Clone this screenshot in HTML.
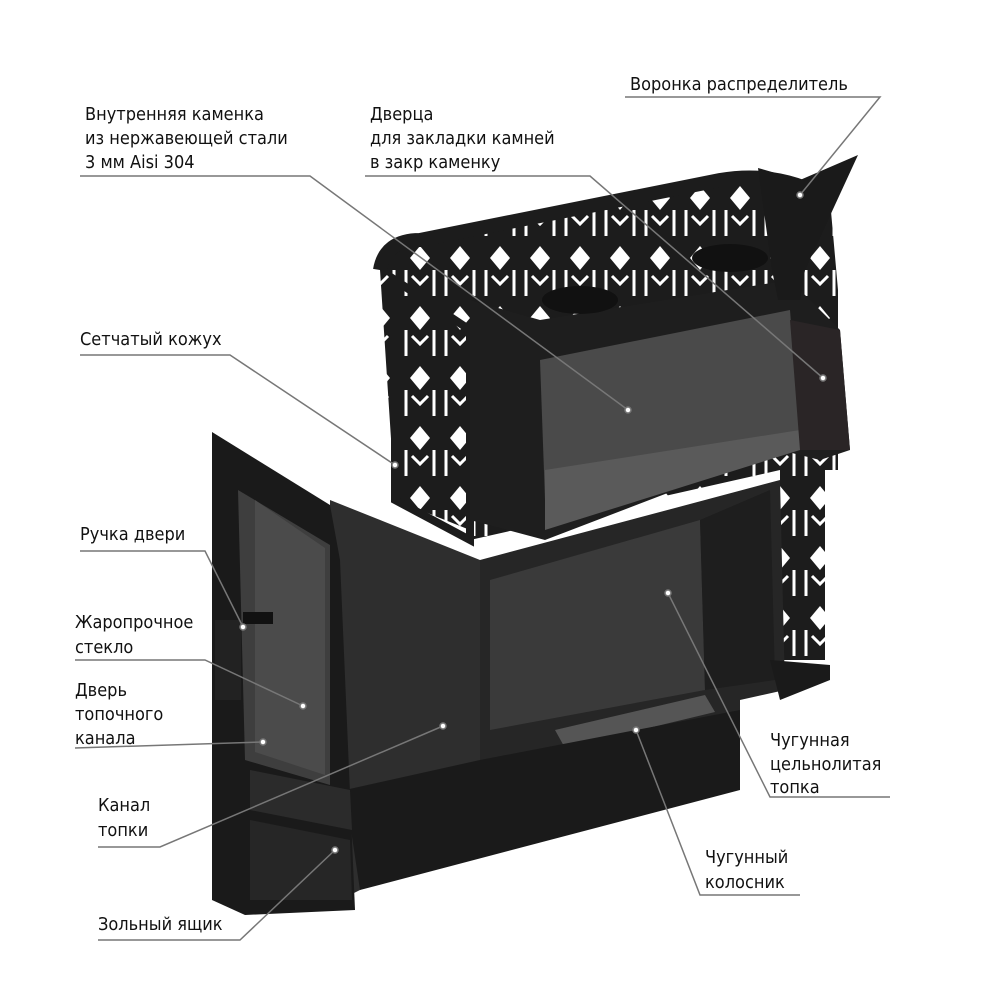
<!DOCTYPE html>
<html><head><meta charset="utf-8"><style>
html,body{margin:0;padding:0;background:#fff;width:1000px;height:1000px;overflow:hidden}
svg{display:block}
text{font-family:"Liberation Sans Narrow","DejaVu Sans Condensed","Liberation Sans",sans-serif;font-size:18px;fill:#111}
</style></head><body>
<svg width="1000" height="1000" viewBox="0 0 1000 1000" xmlns="http://www.w3.org/2000/svg">
<defs>
<pattern id="mesh" x="0" y="0" width="40" height="60" patternUnits="userSpaceOnUse">
<rect width="40" height="60" fill="#1c1c1c"/>
<path d="M20 6 L30 18 L20 30 L10 18 Z" fill="#fff"/>
<path d="M6 30 L6 56 M34 30 L34 56 M12 36 L20 44 L28 36" stroke="#fff" stroke-width="3" fill="none"/>
</pattern>
</defs>
<!-- mesh casing -->
<path d="M380 270 Q385 240 420 240 L720 180 Q780 170 830 200 L838 290 L838 470 L825 470 L825 660 L780 660 L780 470 L470 540 L470 530 L395 500 Z" fill="url(#mesh)"/>
<path d="M380 270 Q385 240 420 240 L720 180 Q780 170 830 200" stroke="#1c1c1c" stroke-width="14" fill="none"/>
<path d="M395 280 L470 330 L470 540 L395 500 Z" fill="none" stroke="#1c1c1c" stroke-width="8"/>
<!-- stone chamber -->
<path d="M470 300 L540 320 L790 280 L840 330 L850 450 L820 460 L780 450 L545 540 L470 520 Z" fill="#1e1e1e"/>
<path d="M540 360 L790 310 L800 440 L545 500 Z" fill="#4a4a4a"/>
<path d="M545 470 L800 430 L800 450 L545 530 Z" fill="#5a5a5a"/>
<path d="M790 320 L840 330 L850 450 L800 450 Z" fill="#2a2526"/>
<ellipse cx="580" cy="300" rx="38" ry="14" fill="#111"/>
<ellipse cx="730" cy="258" rx="38" ry="14" fill="#111"/>
<!-- funnel -->
<path d="M758 168 L800 180 L858 155 L805 270 L800 300 L778 300 L772 270 Z" fill="#1a1a1a"/>
<!-- firebox side -->
<path d="M480 560 L780 480 L785 690 L740 700 L740 780 L710 790 L520 830 L480 820 Z" fill="#262626"/>
<path d="M490 580 L700 520 L705 690 L490 730 Z" fill="#3a3a3a"/>
<path d="M700 520 L770 490 L775 680 L705 690 Z" fill="#1e1e1e"/>
<path d="M555 730 L705 695 L715 712 L565 748 Z" fill="#555"/>
<path d="M770 660 L830 665 L830 680 L780 700 Z" fill="#1a1a1a"/>
<!-- front body -->
<path d="M330 500 L480 560 L480 820 L360 890 L340 900 L330 780 Z" fill="#2e2e2e"/>
<path d="M345 790 L480 760 L740 710 L740 790 L360 890 Z" fill="#1a1a1a"/>
<!-- door panel -->
<path d="M212 432 L330 505 L340 560 L355 910 L245 915 L212 900 Z" fill="#1a1a1a"/>
<path d="M238 490 L330 545 L330 785 L245 760 Z" fill="#3e3e3e"/>
<path d="M255 500 L325 548 L325 775 L255 752 Z" fill="#4b4b4b"/>
<rect x="243" y="612" width="30" height="12" fill="#111"/>
<rect x="215" y="620" width="26" height="80" fill="#222"/>
<path d="M250 770 L350 790 L352 830 L250 810 Z" fill="#2b2b2b"/>
<path d="M250 820 L350 840 L352 900 L250 900 Z" fill="#262626"/>
<!-- leader lines -->
<g stroke="#777" stroke-width="1.5" fill="none">
<path d="M625 97 L880 97 L800 195"/>
<path d="M80 176 L310 176 L628 410"/>
<path d="M365 176 L590 176 L823 378"/>
<path d="M80 355 L230 355 L395 465"/>
<path d="M80 551 L205 551 L243 627"/>
<path d="M75 660 L205 660 L303 706"/>
<path d="M75 748 L263 742"/>
<path d="M98 847 L160 847 L443 726"/>
<path d="M98 940 L240 940 L335 850"/>
<path d="M890 797 L770 797 L668 593"/>
<path d="M800 895 L700 895 L636 730"/>
</g>
<g fill="#fff" stroke="#777" stroke-width="1.5">
<circle cx="800" cy="195" r="3"/><circle cx="628" cy="410" r="3"/><circle cx="823" cy="378" r="3"/>
<circle cx="395" cy="465" r="3"/><circle cx="243" cy="627" r="3"/><circle cx="303" cy="706" r="3"/>
<circle cx="263" cy="742" r="3"/><circle cx="443" cy="726" r="3"/><circle cx="335" cy="850" r="3"/>
<circle cx="668" cy="593" r="3"/><circle cx="636" cy="730" r="3"/>
</g>
<!-- labels -->
<text x="630" y="90">Воронка распределитель</text>
<text x="85" y="120">Внутренняя каменка</text>
<text x="85" y="144">из нержавеющей стали</text>
<text x="85" y="168">3 мм Aisi 304</text>
<text x="370" y="120">Дверца</text>
<text x="370" y="144">для закладки камней</text>
<text x="370" y="168">в закр  каменку</text>
<text x="80" y="345">Сетчатый кожух</text>
<text x="80" y="540">Ручка двери</text>
<text x="75" y="628">Жаропрочное</text>
<text x="75" y="653">стекло</text>
<text x="75" y="696">Дверь</text>
<text x="75" y="720">топочного</text>
<text x="75" y="744">канала</text>
<text x="98" y="811">Канал</text>
<text x="98" y="836">топки</text>
<text x="98" y="930">Зольный ящик</text>
<text x="770" y="746">Чугунная</text>
<text x="770" y="770">цельнолитая</text>
<text x="770" y="793">топка</text>
<text x="705" y="863">Чугунный</text>
<text x="705" y="888">колосник</text>
</svg>
</body></html>
